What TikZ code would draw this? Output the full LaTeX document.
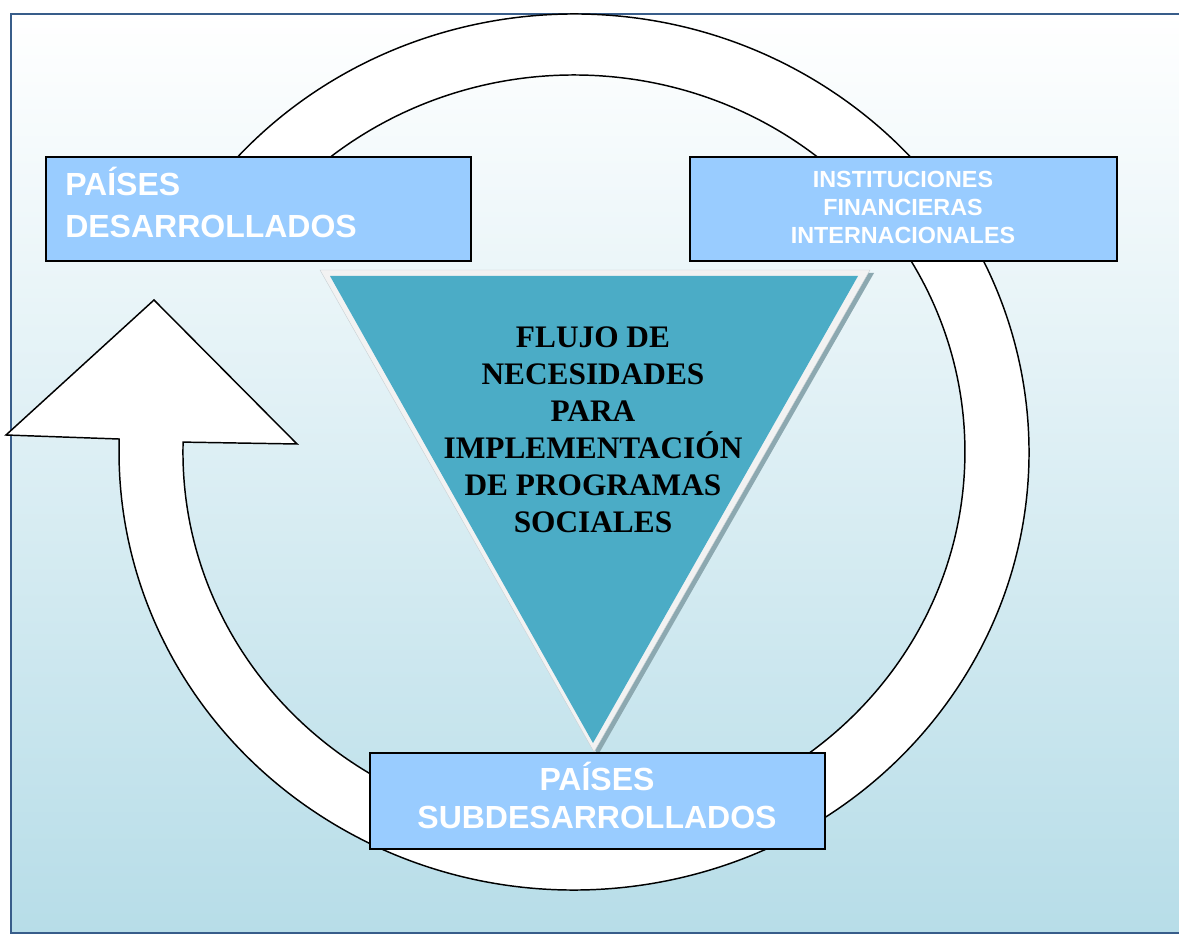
\documentclass[tikz,border=0pt]{standalone}
\usepackage{fontspec}
\setmainfont{Liberation Serif}
\setsansfont{Liberation Sans}
\usepackage{xcolor}

\begin{document}
\begin{tikzpicture}[x=0.75pt,y=0.75pt,yscale=-1,xscale=1,
    ring/.style={draw=black, line width=1.1pt, fill=white, line join=miter},
    country box/.style={draw=black, line width=1.2pt, fill={rgb,255:red,153;green,204;blue,255}},
    box text/.style={inner sep=0.75pt, text=white, font=\sffamily\bfseries\fontsize#1\selectfont},
    tri shadow/.style={fill={rgb,255:red,140;green,168;blue,176}},
    tri bevel/.style={fill={rgb,255:red,242;green,242;blue,242}, draw={rgb,255:red,200;green,208;blue,212}, line width=0.3pt},
    tri fill/.style={fill={rgb,255:red,75;green,172;blue,198}},
    tri text/.style={inner sep=0.75pt, text=black, font=\bfseries\fontsize{23.5}{27.75}\selectfont, align=center}]
        %set diagram left start at 0, and has height of 934
        \useasboundingbox (0,0) rectangle (1179,934);

        %Shape: Rectangle [id:background]
        \shade [top color=white, bottom color={rgb,255:red,183;green,221;blue,232}] (11,14) rectangle (1179,933);
        \draw [color={rgb,255:red,56;green,93;blue,138}, line width=1.5] (1179,14) -- (11,14) -- (11,933) -- (1179,933);

        %Shape: Circular Arrow [id:ring]
        \draw [ring] (574,452) ++(215:455 and 438) arc [start angle=215, end angle=541.7, x radius=455, y radius=438] -- (6,435) -- (154,300) -- (297,444) -- (183.1,442.1) arc [start angle=541.5, end angle=215, x radius=391, y radius=377] -- cycle;

        %Shape: Triangle [id:flow]
        \fill [tri shadow] (324,273) -- (874,273) -- (598,755) -- cycle;
        \filldraw [tri bevel] (320,270) -- (870,270) -- (594,752) -- cycle;
        \fill [tri fill] (330,276) -- (858,276) -- (593,743) -- cycle;

        % Text Node
        \draw (593,430) node [anchor=center][tri text] (flujo) {FLUJO DE\\NECESIDADES\\PARA\\IMPLEMENTACIÓN\\DE PROGRAMAS\\SOCIALES};

        %Shape: Rectangle [id:desarrollados]
        \draw [country box] (46,157) -- (471,157) -- (471,261) -- (46,261) -- cycle;
        % Text Node
        \draw (64,202) node [anchor=west][box text={{24}{31.5}}, align=left] (paises) {PAÍSES\\DESARROLLADOS};

        %Shape: Rectangle [id:instituciones]
        \draw [country box] (690,157) -- (1117,157) -- (1117,261) -- (690,261) -- cycle;
        % Text Node
        \draw (903,207.7) node [anchor=center][box text={{17.5}{21}}, align=center] (ifi) {INSTITUCIONES\\FINANCIERAS\\INTERNACIONALES};

        %Shape: Rectangle [id:subdesarrollados]
        \draw [country box] (370,753) -- (825,753) -- (825,849) -- (370,849) -- cycle;
        % Text Node
        \draw (597,795.6) node [anchor=center][box text={{24}{28.2}}, align=center] (sub) {PAÍSES\\SUBDESARROLLADOS};

\end{tikzpicture}
\end{document}
